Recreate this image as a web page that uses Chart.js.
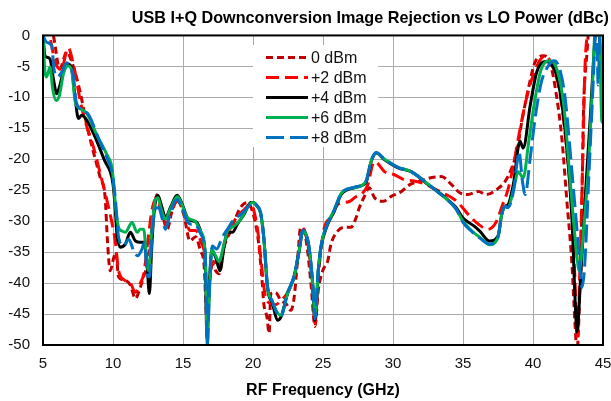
<!DOCTYPE html>
<html>
<head>
<meta charset="utf-8">
<script src="https://cdn.jsdelivr.net/npm/chart.js@4"></script>
<style>
html,body{margin:0;padding:0;background:#fff;}
#wrap{width:611px;height:401px;}
</style>
</head>
<body>
<div id="wrap"><canvas id="c" width="611" height="401"></canvas></div>
<script>
const chartTitle = 'USB I+Q Downconversion Image Rejection vs LO Power (dBc)';
const xTitle = 'RF Frequency (GHz)';
const seriesNames = ['0 dBm', '+2 dBm', '+4 dBm', '+6 dBm', '+8 dBm'];
const seriesColors = ['#C00000', '#FF0000', '#000000', '#00B050', '#0070C0'];
const seriesDash = [[7, 4], [13, 6], [], [], [18, 6]];
const xTicks = [5, 10, 15, 20, 25, 30, 35, 40, 45];
const yTicks = [0, -5, -10, -15, -20, -25, -30, -35, -40, -45, -50];

// 0 dBm
const freq0 = [5.0, 5.6, 5.74, 6.2, 6.7, 7.06, 7.65, 8.13, 8.6, 9.09, 9.44, 9.6, 9.8, 10.04, 10.2, 10.4, 10.8, 11.24, 11.6, 11.95, 12.19, 12.55, 12.9, 13.15, 13.5, 13.87, 14.2, 14.58, 15.05, 15.5, 15.9, 16.25, 16.5, 16.73, 16.9, 17.1, 17.33, 17.57, 17.93, 18.4, 19.1, 19.6, 20.08, 20.4, 20.65, 20.77, 21.0, 21.15, 21.27, 21.6, 21.99, 22.35, 22.7, 22.94, 23.2, 23.4, 23.66, 23.9, 24.14, 24.43, 24.66, 24.98, 25.34, 25.57, 26.05, 26.5, 27.0, 27.37, 27.6, 27.96, 28.3, 28.68, 29.28, 29.87, 30.6, 31.2, 31.8, 32.7, 33.46, 34.18, 34.77, 35.37, 36.09, 36.68, 37.4, 38.0, 38.48, 38.84, 39.2, 39.67, 40.15, 40.75, 41.2, 41.6, 42.06, 42.4, 42.78, 43.0, 43.14, 43.38, 43.5, 43.6, 43.86, 44.0, 45.0];
const val0 = [3, 1, 0, -5.4, -2.7, -4.3, -9.1, -14.5, -18.8, -23, -26.2, -33, -38, -36, -35, -39, -39.5, -40.3, -42.5, -40.7, -39, -36, -28.4, -25.7, -28.5, -31.3, -28.5, -26.5, -28.9, -33.2, -32.5, -34.8, -36.9, -47, -40, -37, -38, -38.5, -34.2, -31.6, -27.8, -27, -29.4, -33.5, -39.6, -43.3, -45.5, -48.1, -41.7, -41.5, -42.8, -43.3, -44.4, -42.3, -35.8, -31, -31.6, -34.8, -40.1, -47, -41.2, -38, -36.4, -33.7, -31.6, -31, -31, -29.4, -27.8, -26, -24.6, -26.2, -26.8, -26, -25.2, -24.1, -23.6, -23, -22.8, -24.1, -25.4, -25.7, -25.2, -25.7, -24.9, -23.6, -21.4, -18.8, -13.9, -8.6, -4.3, -3.3, -4.3, -8.6, -16.6, -26.2, -36.9, -46.5, -51, -38, -26.2, -12.9, -2.7, 1, 2];

// +2 dBm
const freq2 = [5.0, 5.45, 5.9, 6.3, 6.8, 7.2, 7.7, 8.1, 8.6, 9.0, 9.5, 9.9, 10.16, 10.4, 10.8, 11.24, 11.6, 11.95, 12.2, 12.5, 12.8, 13.1, 13.4, 13.75, 14.2, 14.6, 15.0, 15.5, 15.9, 16.3, 16.55, 16.73, 16.9, 17.2, 17.5, 17.9, 18.3, 18.8, 19.3, 19.84, 20.3, 20.55, 20.9, 21.27, 21.6, 22.0, 22.47, 22.94, 23.3, 23.55, 23.8, 24.0, 24.26, 24.43, 24.66, 25.1, 25.57, 26.05, 26.5, 26.9, 27.37, 27.85, 28.2, 28.56, 28.7, 29.4, 30.1, 30.8, 31.5, 32.3, 33.0, 33.6, 34.2, 34.65, 35.37, 36.1, 36.8, 37.4, 37.8, 38.2, 38.6, 39.0, 39.5, 40.0, 40.5, 40.9, 41.3, 41.9, 42.4, 42.78, 43.0, 43.15, 43.35, 43.6, 43.7, 43.9, 45.0];
const val2 = [2, 0, -4.5, -5.5, -2, -5, -11, -14.5, -18, -21.5, -26, -30, -33.2, -38, -39.5, -40, -41.5, -40, -38.5, -33, -28, -26.3, -28, -30.5, -28.2, -26.8, -28, -31.5, -31.5, -33.5, -36, -46, -39, -36.5, -37.5, -34, -31.5, -29.5, -28.3, -27.3, -31, -35.8, -42.3, -43.3, -43.5, -42.8, -41.5, -38.8, -34.6, -31, -32.5, -35, -40.7, -46.5, -39, -31, -29.4, -27.3, -27, -26.8, -26, -25.4, -24.1, -20.7, -20.4, -22, -22.5, -23.3, -23.5, -24, -24.8, -25.5, -26.2, -27, -28.9, -30.5, -31.3, -30, -27.5, -25, -21, -16, -10.5, -6.5, -4, -3.3, -4.5, -9.1, -18.2, -28.9, -39.6, -49, -38, -15.5, -5.9, 0, 2];

// +4 dBm
const freq4 = [5.0, 5.14, 5.26, 5.5, 5.74, 5.98, 6.2, 6.58, 6.8, 7.05, 7.3, 7.53, 7.77, 8.13, 8.85, 9.44, 9.8, 10.0, 10.16, 10.28, 10.52, 10.88, 11.24, 11.6, 11.95, 12.24, 12.43, 12.6, 12.75, 12.9, 13.2, 13.5, 13.75, 14.1, 14.58, 14.95, 15.3, 15.77, 16.0, 16.37, 16.6, 16.7, 16.85, 17.04, 17.33, 17.64, 17.93, 18.17, 18.53, 18.88, 19.36, 19.84, 20.0, 20.3, 20.55, 20.79, 21.03, 21.39, 21.75, 21.99, 22.47, 22.94, 23.3, 23.55, 23.78, 24.0, 24.26, 24.43, 24.66, 24.86, 25.34, 25.8, 26.3, 26.77, 27.25, 27.8, 28.1, 28.44, 28.8, 29.4, 30.36, 31.3, 32.5, 33.2, 33.9, 34.5, 35.0, 35.8, 36.2, 36.9, 37.5, 37.76, 38.0, 38.2, 38.6, 39.07, 39.3, 39.8, 40.27, 40.86, 41.3, 41.8, 42.3, 42.78, 43.0, 43.14, 43.38, 43.73, 44.1, 44.33, 44.45, 44.7, 45.0];
const val4 = [0, -3.3, -3.5, -3.8, -7, -9.4, -8.1, -4.9, -4.6, -5.4, -10.2, -13.4, -12.9, -13.7, -17.1, -20.4, -22, -24, -28, -32.1, -34.2, -33.7, -31.8, -33.2, -33.4, -33.4, -37, -41.7, -35, -29.4, -25.8, -27.8, -29.4, -27.8, -25.8, -27.3, -29.4, -30, -30.2, -32.4, -36, -48.6, -42, -34.8, -35.8, -38, -34.2, -31.8, -31.8, -30.5, -28.9, -27, -27, -27.6, -28.8, -33.2, -40.7, -43.3, -46, -45.5, -41.7, -39, -34.8, -31.6, -32.1, -34.2, -40.1, -46, -38, -34.2, -30.5, -28.4, -25.7, -24.9, -24.6, -24.2, -23.6, -20.4, -19, -20.1, -21.4, -22, -24.1, -25.2, -26.5, -27.8, -29.5, -30.8, -31.6, -33.2, -32.4, -29, -27.6, -27.4, -24, -17.1, -18.2, -11.3, -5.9, -4.2, -4.6, -7.5, -15.5, -29.4, -42.3, -47.9, -40.1, -26.2, -12.9, -3.8, 0, 3, 3];

// +6 dBm
const freq6 = [5.0, 5.14, 5.26, 5.5, 5.69, 5.93, 6.17, 6.46, 6.8, 7.05, 7.3, 7.65, 8.13, 8.85, 9.57, 9.93, 10.05, 10.2, 10.4, 10.64, 10.88, 11.36, 11.72, 11.95, 12.19, 12.43, 12.55, 12.75, 13.03, 13.2, 13.5, 13.75, 14.1, 14.6, 14.95, 15.3, 15.85, 16.25, 16.6, 16.73, 16.88, 17.04, 17.33, 17.57, 17.93, 18.17, 18.64, 19.12, 19.6, 19.96, 20.3, 20.55, 20.79, 21.03, 21.39, 21.75, 21.99, 22.47, 22.94, 23.3, 23.55, 23.78, 24.0, 24.26, 24.43, 24.66, 24.86, 25.34, 25.8, 26.3, 26.77, 27.25, 27.8, 28.1, 28.44, 28.8, 29.4, 30.36, 31.3, 32.5, 33.2, 33.9, 34.5, 35.0, 35.6, 36.3, 36.9, 37.5, 37.76, 38.0, 38.2, 38.6, 38.95, 39.3, 39.7, 40.15, 40.6, 41.2, 41.7, 42.2, 42.66, 43.14, 43.3, 43.6, 43.97, 44.26, 44.4, 44.6, 44.78, 44.92, 45.0];
const val6 = [0, -5.9, -6.7, -5.1, -8.6, -10.5, -9.7, -6.2, -4.9, -5.7, -10.7, -11.8, -12.6, -16.1, -19.3, -21.4, -24, -28, -31, -31.6, -31.8, -30.2, -31.8, -31.3, -31.3, -37, -38, -32, -26.5, -26.2, -28.5, -29.7, -28, -26, -27.5, -29.4, -30, -31.6, -35.8, -50, -42, -34.5, -35.6, -36.5, -33.7, -31.6, -30.8, -29.7, -27.8, -27, -27.6, -28.8, -33.2, -40.5, -43, -44.8, -45.2, -41.7, -39, -34.8, -31.6, -32.1, -34.2, -40.1, -45.5, -38, -34, -30.3, -28.2, -25.5, -24.8, -24.6, -24.2, -23.4, -20.3, -19, -20, -21.3, -22, -24, -25.3, -26.6, -28, -30, -31.5, -32.8, -33.8, -32.6, -29, -27.6, -27.8, -25, -22, -23, -17.1, -10.2, -5.4, -4.1, -5.4, -11.3, -23.6, -35.8, -38, -31.6, -20.9, -7.5, 0, 3, -2, -14, 0];

// +8 dBm
const freq8 = [5.0, 5.26, 5.62, 5.79, 6.03, 6.34, 6.7, 6.94, 7.17, 7.37, 7.77, 8.25, 8.96, 9.68, 9.92, 10.16, 10.4, 10.76, 11.12, 11.48, 11.76, 12.07, 12.24, 12.45, 12.6, 12.8, 13.03, 13.27, 13.5, 13.75, 14.1, 14.58, 14.95, 15.3, 15.6, 15.85, 16.25, 16.6, 16.73, 16.9, 17.1, 17.4, 17.8, 18.17, 18.64, 19.1, 19.6, 19.96, 20.3, 20.55, 20.79, 21.03, 21.39, 21.75, 21.99, 22.47, 22.94, 23.3, 23.55, 23.78, 24.0, 24.26, 24.43, 24.66, 24.86, 25.34, 25.8, 26.3, 26.77, 27.25, 27.8, 28.1, 28.44, 28.8, 29.4, 30.36, 31.3, 32.5, 33.2, 33.9, 34.5, 35.0, 35.6, 36.3, 36.9, 37.5, 37.76, 38.0, 38.2, 38.6, 38.84, 39.0, 39.25, 39.44, 39.8, 40.15, 40.6, 41.1, 41.5, 41.9, 42.3, 42.78, 43.25, 43.5, 43.7, 43.97, 44.33, 44.45, 44.55, 44.65, 44.8, 45.0];
const val8 = [0, -1.1, -1.7, -5.5, -6.7, -5.9, -4.4, -5.1, -6.5, -10.7, -12, -12.8, -16.6, -20.4, -22, -26.2, -32.6, -34, -32.9, -34.8, -35.6, -34.5, -33.5, -38.5, -39, -32, -28, -27.8, -29.5, -31.3, -28.5, -26.5, -28, -30, -30.5, -30.5, -32, -36, -50, -40, -34, -34.5, -32.6, -31.3, -29.7, -29, -27.8, -27, -27.5, -28.6, -33, -40.3, -43, -45, -45.4, -41.5, -38.8, -34.6, -31.5, -32, -34.2, -40, -45.8, -38, -34, -30.3, -28.2, -25.5, -24.8, -24.5, -24.1, -23.4, -20.2, -18.9, -20, -21.3, -22, -24, -25.3, -26.6, -28, -30.2, -31.6, -32.9, -33.7, -32.6, -28.9, -27.6, -27.8, -25.2, -20.9, -18.8, -23.6, -25.7, -19.8, -13.4, -7.5, -4.9, -4.1, -5.4, -10.2, -22, -34.2, -40.7, -36.9, -23.6, -5.9, 1, 2, -8, 2, 2];

const seriesFreq = [freq0, freq2, freq4, freq6, freq8];
const seriesVals = [val0, val2, val4, val6, val8];

const FONT = '"Liberation Sans", Arial, Helvetica, sans-serif';

const datasets = seriesNames.map((name, i) => ({
  label: name,
  data: seriesFreq[i].map((f, j) => ({ x: f, y: seriesVals[i][j] })),
  borderColor: seriesColors[i],
  backgroundColor: seriesColors[i],
  borderWidth: 3,
  borderDash: seriesDash[i],
  pointRadius: 0,
  fill: false,
  cubicInterpolationMode: 'monotone',
  clip: 0,
  order: seriesNames.length - i
}));

const framePlugin = {
  id: 'frameAndLegend',
  afterDatasetsDraw(chart) {
    const ctx = chart.ctx;
    const a = chart.chartArea;
    ctx.save();
    ctx.strokeStyle = '#000';
    ctx.lineWidth = 2;
    ctx.setLineDash([]);
    ctx.strokeRect(a.left, a.top, a.right - a.left, a.bottom - a.top);
    // legend
    ctx.fillStyle = '#fff';
    ctx.fillRect(253, 45, 125, 102);
    ctx.font = '16px ' + FONT;
    ctx.textBaseline = 'middle';
    ctx.textAlign = 'left';
    chart.data.datasets.forEach((ds, i) => {
      const y = 57.5 + 20 * i;
      ctx.beginPath();
      ctx.strokeStyle = ds.borderColor;
      ctx.lineWidth = 3;
      ctx.setLineDash(ds.borderDash || []);
      ctx.moveTo(266, y);
      ctx.lineTo(308, y);
      ctx.stroke();
      ctx.setLineDash([]);
      ctx.fillStyle = '#111';
      ctx.fillText(ds.label, 311, y + 1);
    });
    ctx.restore();
  }
};

new Chart(document.getElementById('c'), {
  type: 'line',
  data: { datasets },
  options: {
    responsive: false,
    animation: false,
    devicePixelRatio: 1,
    layout: { padding: { left: 0, right: 2, top: 0, bottom: 0 } },
    plugins: {
      legend: { display: false },
      tooltip: { enabled: false },
      title: {
        display: true,
        text: chartTitle,
        align: 'end',
        color: '#000',
        font: { family: FONT, size: 16.2, weight: 'bold' },
        padding: { top: 9, bottom: 7 }
      }
    },
    scales: {
      x: {
        type: 'linear',
        min: 5, max: 45,
        afterBuildTicks: (s) => { s.ticks = xTicks.map(v => ({ value: v })); },
        afterFit: (s) => { s.height = 56; s.paddingRight = 8; s.paddingLeft = 0; },
        ticks: { color: '#111', font: { family: FONT, size: 15 }, padding: 10, maxRotation: 0 },
        grid: { color: '#ABABAB', lineWidth: 1, drawTicks: false },
        border: { display: false },
        title: {
          display: true, text: xTitle, color: '#000',
          font: { family: FONT, size: 16, weight: 'bold' },
          padding: { top: 0, bottom: 1 }
        }
      },
      y: {
        type: 'linear',
        min: -50, max: 0,
        afterBuildTicks: (s) => { s.ticks = yTicks.map(v => ({ value: v })); },
        afterFit: (s) => { s.width = 43; s.paddingTop = 0; s.paddingBottom = 0; },
        ticks: { color: '#111', font: { family: FONT, size: 15 }, padding: 13 },
        grid: { color: '#ABABAB', lineWidth: 1, drawTicks: false },
        border: { display: false }
      }
    }
  },
  plugins: [framePlugin]
});
</script>
</body>
</html>
